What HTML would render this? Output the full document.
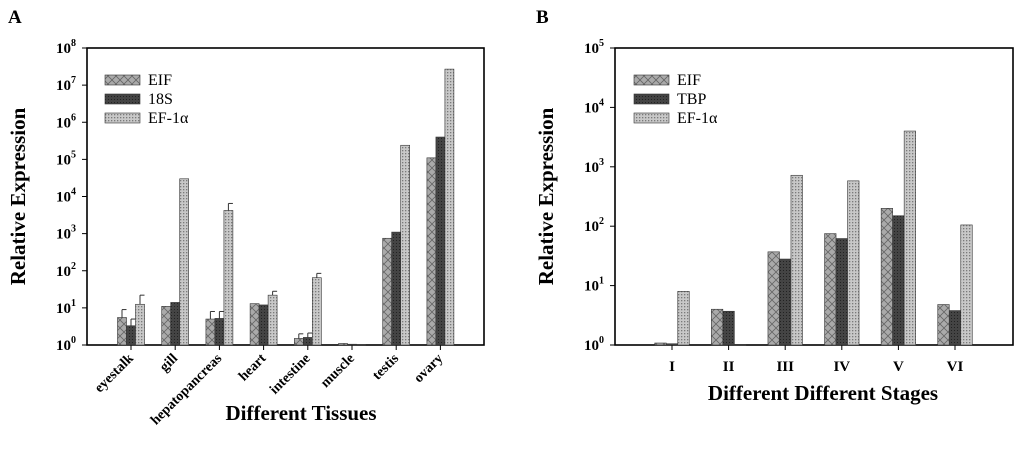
<!DOCTYPE html>
<html><head><meta charset="utf-8"><style>
body{margin:0;background:#fff;width:1024px;height:444px;overflow:hidden}
svg{font-family:"Liberation Serif",serif}
</style></head><body>
<svg id="s" width="1024" height="444">
<defs>
<pattern id="pEIF" width="8" height="8" patternUnits="userSpaceOnUse"><rect width="8" height="8" fill="#aaa"/><path d="M0 0L8 8M8 0L0 8" stroke="#666" stroke-width="0.8"/></pattern>
<pattern id="pDark" width="3" height="3" patternUnits="userSpaceOnUse"><rect width="3" height="3" fill="#444"/><rect width="1" height="1" fill="#222"/></pattern>
<pattern id="pEF" width="3" height="3" patternUnits="userSpaceOnUse"><rect width="3" height="3" fill="#c8c8c8"/><rect width="1.3" height="1.3" fill="#7a7a7a"/></pattern>
</defs>
</svg>
<script>
const catsA=["eyestalk","gill","hepatopancreas","heart","intestine","muscle","testis","ovary"];
const eifA=[5.5,11,5,13,1.5,1.1,750,110000];
const s18A=[3.3,14,5.2,12,1.6,1.05,1100,400000];
const efA=[12.5,30000,4200,22,65,1,240000,27000000];
const eifErrA=[9,11,8,13,2,1.1,750,110000];
const s18ErrA=[5,14,8,12,2.1,1.05,1100,400000];
const efErrA=[22,30000,6500,28,85,1,240000,27000000];
const catsB=["I","II","III","IV","V","VI"];
const eifB=[1.08,4,37,75,200,4.8];
const tbpB=[1.05,3.7,28,62,150,3.8];
const efB=[8,1.02,720,580,4000,105];
const NS="http://www.w3.org/2000/svg";
const svg=document.getElementById('s');
function mk(tag,attrs,parent){const e=document.createElementNS(NS,tag);for(const k in attrs)e.setAttribute(k,attrs[k]);(parent||svg).appendChild(e);return e;}
function chart(cfg){
  const g=mk('g',{});
  
  
  const {L,T,R,B,decs}=cfg;
  const y=v=>B-(Math.log10(v)/decs)*(B-T);
  const x=i=>cfg.x0+i*cfg.dx;
  const frame=mk('rect',{x:L,y:T,width:R-L,height:B-T,fill:"none",stroke:"#000","stroke-width":1.6},g);
  
  
  for(let d=0;d<=decs;d++){
    const yy=y(Math.pow(10,d));
    mk('line',{x1:L-5,x2:L,y1:yy,y2:yy,stroke:"#000","stroke-width":1},g);
    const t=mk('text',{x:L-11,y:yy+5,"text-anchor":"end","font-size":15,"font-weight":"bold"},g);
    
    
    t.textContent="10";
    const sp=mk('tspan',{dy:-7,"font-size":10},t);sp.textContent=String(d);
  }
  const pats=["url(#pEIF)","url(#pDark)","url(#pEF)"];
  cfg.cats.forEach((c,i)=>{
    const cx=x(i);
    mk('line',{x1:cx,x2:cx,y1:B,y2:B+5,stroke:"#000","stroke-width":1},g);
    cfg.series.forEach((s,j)=>{
      const v=s[i];const bx=cx-1.5*cfg.bw+j*cfg.bw;
      const top=y(v);
      const r=mk('rect',{x:bx,y:top,width:cfg.bw,height:Math.max(B-top,0.5),fill:pats[j],stroke:"#333","stroke-width":0.6},g);
      
      
      if(cfg.errs){const e=cfg.errs[j][i];if(e>v){const ey=y(e);
        mk('line',{x1:bx+cfg.bw/2,x2:bx+cfg.bw/2,y1:top,y2:ey,stroke:"#333","stroke-width":1},g);
        mk('line',{x1:bx+cfg.bw/2,x2:bx+cfg.bw,y1:ey,y2:ey,stroke:"#333","stroke-width":1},g);}}
    });
    let lab;
    if(cfg.rot){lab=mk('text',{x:cx+3,y:B+14,"text-anchor":"end","font-size":14,"font-weight":"bold",transform:`rotate(-45 ${cx+3} ${B+14})`},g);}
    else{lab=mk('text',{x:cx,y:B+26,"text-anchor":"middle","font-size":15,"font-weight":"bold"},g);}
    lab.textContent=c;
    
    
  });
  cfg.names.forEach((n,j)=>{
    const ly=cfg.legY+j*19;
    const sw=mk('rect',{x:cfg.legX,y:ly-5,width:35,height:10,fill:pats[j],stroke:"#333","stroke-width":0.6},g);
    
    
    const t=mk('text',{x:cfg.legX+43,y:ly+5,"font-size":16},g);t.textContent=n;
    
    
  });
  const yt=mk('text',{x:cfg.ytx,y:(T+B)/2,"text-anchor":"middle","font-size":21,"font-weight":"bold",transform:`rotate(-90 ${cfg.ytx} ${(T+B)/2})`},g);
  yt.textContent="Relative Expression";
  
  
  const xt=mk('text',{x:cfg.xtx,y:cfg.xty,"text-anchor":"middle","font-size":21,"font-weight":"bold"},g);
  xt.textContent=cfg.xtitle;
  
  
  const pl=mk('text',{x:cfg.plx,y:23,"font-size":19,"font-weight":"bold"},g);
  pl.textContent=cfg.panel;
  
  
}
chart({name:"chart-a-tissues",L:87,T:48,R:484,B:345,decs:8,cats:catsA,x0:131,dx:44.2,bw:9,
  series:[eifA,s18A,efA],errs:[eifErrA,s18ErrA,efErrA],names:["EIF","18S","EF-1α"],rot:true,
  legX:105,legY:80,ytx:25,xtx:301,xty:420,xtitle:"Different Tissues",plx:8,panel:"A"});
chart({name:"chart-b-stages",L:615,T:48,R:1013,B:345,decs:5,cats:catsB,x0:672,dx:56.6,bw:11.5,
  series:[eifB,tbpB,efB],errs:null,names:["EIF","TBP","EF-1α"],rot:false,
  legX:634,legY:80,ytx:553,xtx:823,xty:400,xtitle:"Different Different Stages",plx:536,panel:"B"});
</script>
</body></html>
